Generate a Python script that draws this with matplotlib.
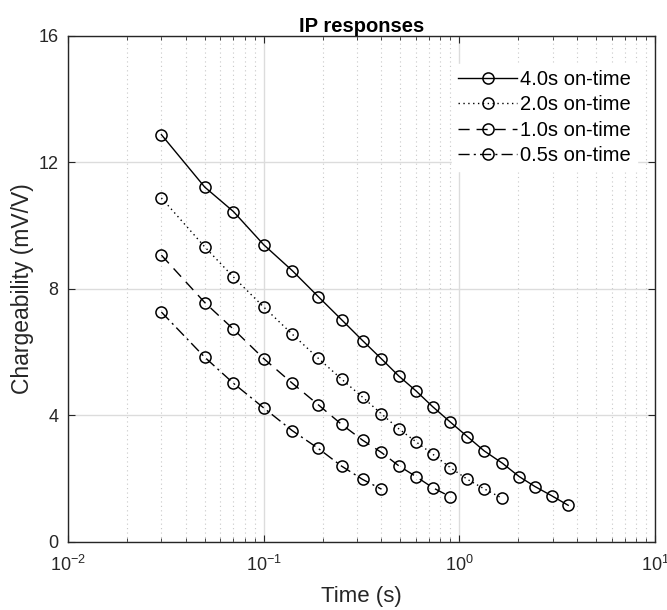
import matplotlib
matplotlib.use("Agg")
import matplotlib.pyplot as plt
from matplotlib.ticker import LogLocator, NullFormatter

plt.rcParams['font.family'] = ['Liberation Sans', 'DejaVu Sans']

# Time gates (s)
times = [0.03, 0.05, 0.07, 0.1, 0.14, 0.19, 0.25, 0.32, 0.40, 0.49,
         0.60, 0.73, 0.90, 1.1, 1.34, 1.66, 2.02, 2.44, 2.97, 3.6]

# Chargeability (mV/V) per on-time
m_4s = [12.88, 11.22, 10.45, 9.40, 8.58, 7.76, 7.03, 6.37, 5.79, 5.25,
        4.78, 4.28, 3.79, 3.33, 2.88, 2.49, 2.07, 1.75, 1.46, 1.16]
m_2s = [10.88, 9.33, 8.38, 7.43, 6.57, 5.81, 5.15, 4.58, 4.05, 3.58,
        3.17, 2.78, 2.35, 1.98, 1.68, 1.38]
m_1s = [9.07, 7.57, 6.73, 5.80, 5.02, 4.34, 3.72, 3.22, 2.83, 2.41,
        2.07, 1.72, 1.43]
m_05s = [7.27, 5.84, 5.02, 4.24, 3.52, 2.96, 2.40, 1.98, 1.67]

labels = ['4.0s on-time', '2.0s on-time', '1.0s on-time', '0.5s on-time']
series = [m_4s, m_2s, m_1s, m_05s]
styles = ['-', (0, (1, 2.5)), (0, (8, 5)), (0, (8, 3, 1.5, 3))]

fig = plt.figure(figsize=(6.67, 6.10), dpi=100)
ax = fig.add_axes([0.102, 0.1115, 0.880, 0.8295])

for vals, lab, ls in zip(series, labels, styles):
    ax.plot(times[:len(vals)], vals, linestyle=ls, color='black', linewidth=1.0,
            marker='o', markersize=8, markerfacecolor='none',
            markeredgecolor='black', markeredgewidth=1.1, label=lab)

ax.set_xscale('log')
ax.set_xlim(0.01, 10)
ax.set_ylim(0, 16)
ax.set_yticks([0, 4, 8, 12, 16])
ax.xaxis.set_major_locator(LogLocator(base=10, numticks=10))
ax.xaxis.set_minor_locator(LogLocator(base=10, subs=range(2, 10), numticks=20))
ax.xaxis.set_minor_formatter(NullFormatter())

ax.grid(True, which='major', color='#dcdcdc', linewidth=1.0, linestyle='-')
ax.grid(True, which='minor', axis='x', color='#c8c8c8', linewidth=0.8,
        linestyle=(0, (1, 3)))
ax.set_axisbelow(True)

ax.tick_params(which='both', direction='in', top=True, right=True,
               labelsize=13, colors='#262626')
ax.tick_params(which='major', length=5)
ax.tick_params(which='minor', length=3)
ax.tick_params(axis='x', which='major', pad=9)
ax.tick_params(axis='y', which='major', pad=7)
for sp in ax.spines.values():
    sp.set_color('#262626')
    sp.set_linewidth(1.0)

ax.set_xlabel('Time (s)', fontsize=16, color='#262626', labelpad=8)
ax.set_ylabel('Chargeability (mV/V)', fontsize=16.5, color='#262626', labelpad=3)
ax.set_title('IP responses', fontsize=14.5, fontweight='bold', pad=3)

leg = ax.legend(loc='upper right', bbox_to_anchor=(0.969, 0.945),
                fontsize=14.5, frameon=True, fancybox=False,
                framealpha=1, edgecolor='white', handlelength=2.9,
                handletextpad=0.15, borderpad=0.3, labelspacing=0.32,
                borderaxespad=0)

fig.savefig('out.png', dpi=100)
